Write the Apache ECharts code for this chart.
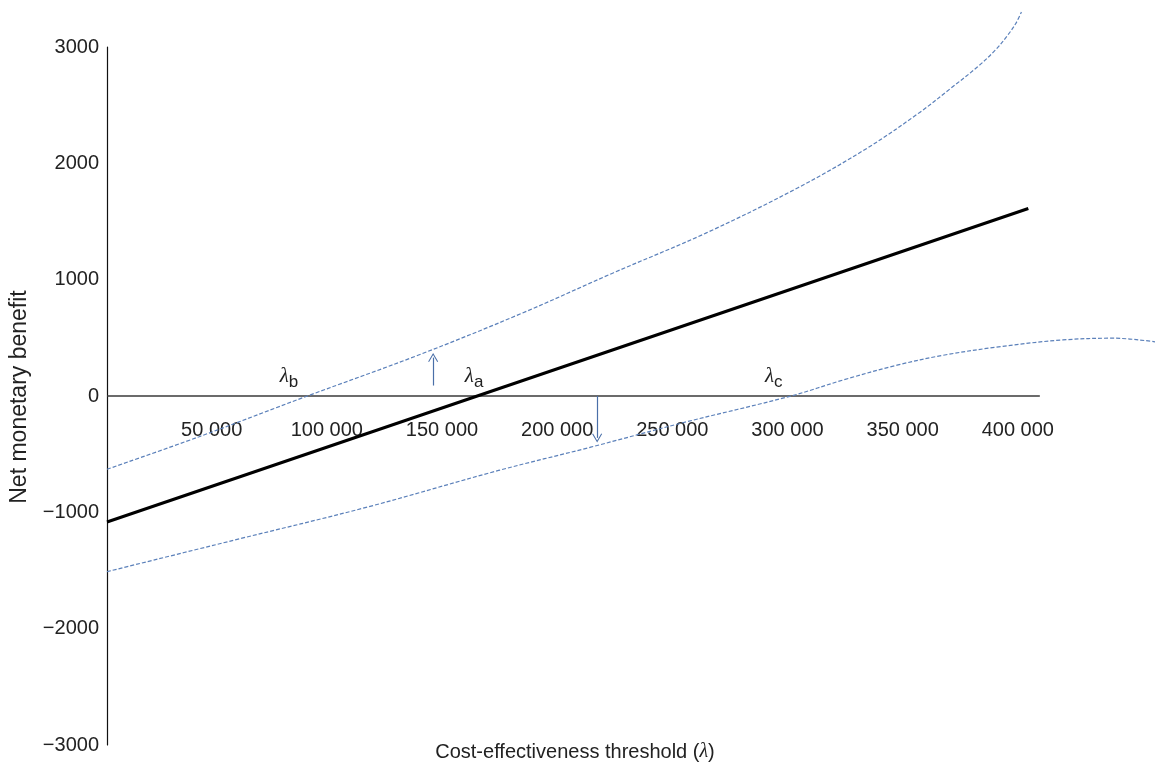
<!DOCTYPE html>
<html><head><meta charset="utf-8">
<script src="https://cdn.jsdelivr.net/npm/echarts@6/dist/echarts.min.js"></script>
<style>html,body{margin:0;padding:0;background:#fff}#c{width:1155px;height:765px}</style>
</head><body><div id="c"></div>
<script>
// Net monetary benefit (point estimate)
const nmbX = [0, 400000];
const nmbY = [-1083, 1612];
// Upper confidence limit
const upperX = [0, 40000, 87000, 135000, 180000, 220000, 260000, 300000, 330000, 353000, 366000, 378000, 386000, 391000, 394500, 397000];
const upperY = [-630, -350, 0, 350, 710, 1060, 1400, 1790, 2130, 2440, 2640, 2830, 2980, 3100, 3200, 3300];
// Lower confidence limit
const lowerX = [0, 55000, 113000, 170000, 210000, 250000, 297000, 320000, 343000, 363000, 388000, 415000, 437000, 455000];
const lowerY = [-1510, -1240, -955, -640, -440, -230, 0, 140, 265, 350, 425, 482, 497, 466];
// Horizontal zero axis extent
const zeroLineX = [0, 405000];
// Tick labels
const xTickValues = [50000, 100000, 150000, 200000, 250000, 300000, 350000, 400000];
const yTickValues = [-3000, -2000, -1000, 0, 1000, 2000, 3000];
// Lambda annotations
const lambdaSubs = ['b', 'a', 'c'];
const lambdaX = [79000, 159400, 289500];
const lambdaY = [155, 155, 155];
// Arrows (x, from, to)
const arrowX = [141600, 212800];
const arrowFrom = [90, 0];
const arrowTo = [330, -360];

const zip = (xs, ys) => xs.map((x, i) => [x, ys[i]]);
const fmtX = v => xTickValues.indexOf(v) >= 0 ? (v / 1000) + ' 000' : '';
const fmtY = v => yTickValues.indexOf(v) >= 0 ? (v < 0 ? '\u2212' + Math.abs(v) : String(v)) : '';

const blue = '#5b80ba';
const arrowPath = 'path://M0,0 L5,8 L4.1,8.6 L0,1.8 L-4.1,8.6 L-5,8 Z';

const chart = echarts.init(document.getElementById('c'), null, {renderer: 'canvas'});
chart.setOption({
  animation: false,
  backgroundColor: '#fff',
  grid: {left: 107, right: 0, top: 47, bottom: 20, containLabel: false, outerBoundsMode: 'none'},
  xAxis: {
    type: 'value', min: 0, max: 455000, interval: 50000,
    position: 'bottom', offset: -349,
    axisLine: {show: false, onZero: false},
    axisTick: {show: false}, splitLine: {show: false},
    axisLabel: {
      formatter: fmtX, color: '#222', fontSize: 20, fontFamily: 'Liberation Sans',
      margin: 24, padding: [0, 21, 0, 0], showMinLabel: true, showMaxLabel: true
    }
  },
  yAxis: {
    type: 'value', min: -3000, max: 3000, interval: 1000,
    axisLine: {show: true, onZero: false, lineStyle: {color: '#111', width: 1.2}},
    axisTick: {show: false}, splitLine: {show: false},
    axisLabel: {formatter: fmtY, color: '#222', fontSize: 20, fontFamily: 'Liberation Sans', margin: 8}
  },
  graphic: [
    {type: 'text', x: 20, y: 397, rotation: Math.PI / 2,
     style: {text: 'Net monetary benefit', fill: '#222', font: '23px "Liberation Sans"', align: 'center', verticalAlign: 'middle'}},
    {type: 'text', x: 575, y: 752,
     style: {text: '{n|Cost-effectiveness threshold (}{i|\u03bb}{n|)}', align: 'center', verticalAlign: 'middle',
       rich: {n: {fill: '#222', fontSize: 20, fontFamily: 'Liberation Sans'},
              i: {fill: '#222', fontSize: 20, fontFamily: 'Liberation Serif', fontStyle: 'italic'}}}}
  ],
  series: [
    {
      type: 'line', name: 'zero', data: zip(zeroLineX, [0, 0]), symbol: 'none',
      lineStyle: {color: '#3a3a3a', width: 1.6}, silent: true, z: 1,
      markLine: {
        silent: true, animation: false, symbol: ['none', arrowPath], symbolSize: [10, 9],
        label: {show: false}, lineStyle: {color: '#4a6fa8', width: 1.2, type: 'solid'},
        data: arrowX.map((x, i) => [{coord: [x, arrowFrom[i]]}, {coord: [x, arrowTo[i]]}])
      },
      markPoint: {
        silent: true, animation: false, symbol: 'circle', symbolSize: 1,
        itemStyle: {color: 'rgba(0,0,0,0)'},
        label: {
          show: true, position: 'inside',
          formatter: p => '{l|\u03bb}{s|' + p.name + '}',
          rich: {
            l: {fontFamily: 'Liberation Serif', fontStyle: 'italic', fontSize: 21, color: '#222', lineHeight: 24, verticalAlign: 'top'},
            s: {fontFamily: 'Liberation Sans', fontSize: 17, color: '#222', lineHeight: 24, verticalAlign: 'top', padding: [8, 0, 0, 0]}
          }
        },
        data: lambdaSubs.map((s, i) => ({name: s, coord: [lambdaX[i], lambdaY[i]]}))
      }
    },
    {
      type: 'line', name: 'Upper', data: zip(upperX, upperY), symbol: 'none', smooth: 0.35, clip: false,
      lineStyle: {color: blue, width: 1.2, type: [4, 2]}, z: 2
    },
    {
      type: 'line', name: 'Lower', data: zip(lowerX, lowerY), symbol: 'none', smooth: 0.35, clip: false,
      lineStyle: {color: blue, width: 1.2, type: [4, 2]}, z: 2
    },
    {
      type: 'line', name: 'NMB', data: zip(nmbX, nmbY), symbol: 'none', clip: false,
      lineStyle: {color: '#000', width: 3}, z: 3
    }
  ]
});
</script></body></html>
